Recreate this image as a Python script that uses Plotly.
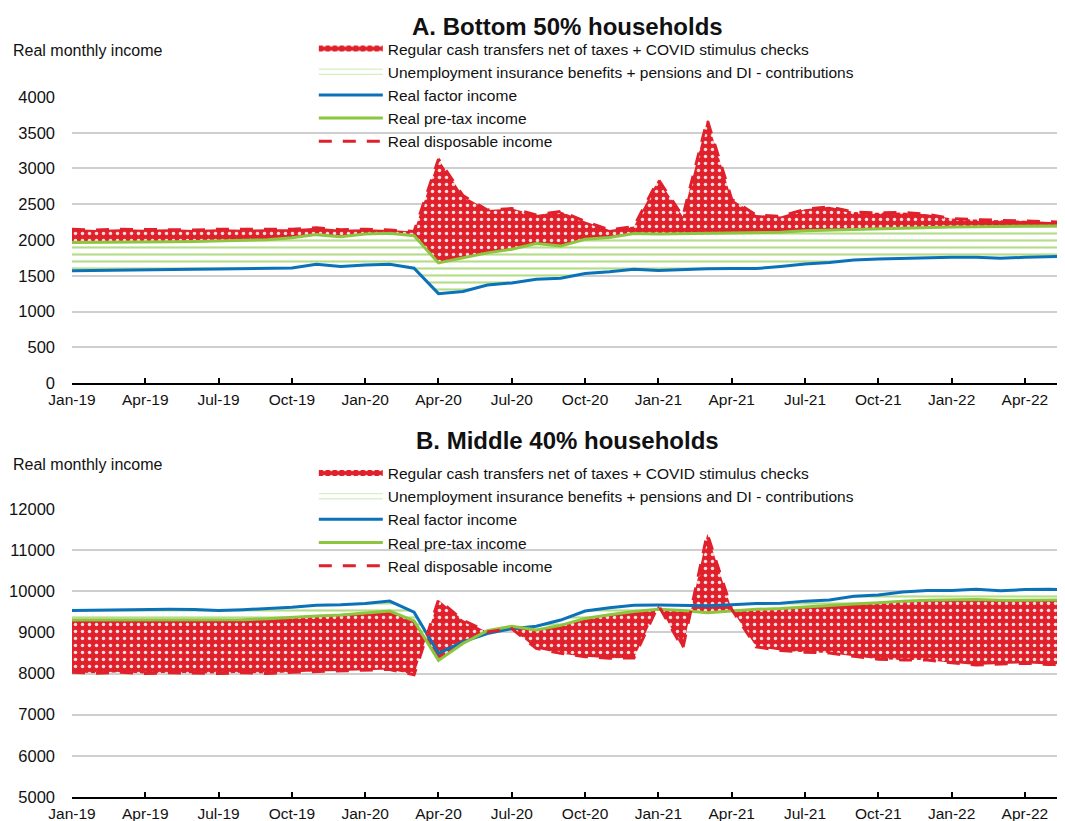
import plotly.graph_objects as go

# monthly observations, Jan-19 .. Jun-22
months = [
    "Jan-19", "Feb-19", "Mar-19", "Apr-19", "May-19", "Jun-19", "Jul-19", "Aug-19", "Sep-19", "Oct-19", "Nov-19", "Dec-19",
    "Jan-20", "Feb-20", "Mar-20", "Apr-20", "May-20", "Jun-20", "Jul-20", "Aug-20", "Sep-20", "Oct-20", "Nov-20", "Dec-20",
    "Jan-21", "Feb-21", "Mar-21", "Apr-21", "May-21", "Jun-21", "Jul-21", "Aug-21", "Sep-21", "Oct-21", "Nov-21", "Dec-21",
    "Jan-22", "Feb-22", "Mar-22", "Apr-22", "May-22", "Jun-22",
]
tick_labels = months[::3]

# A. Bottom 50% households
factor_a = [1570, 1572, 1575, 1580, 1585, 1590, 1595, 1600, 1600, 1610, 1660, 1630,
            1650, 1660, 1605, 1250, 1280, 1370, 1400, 1450, 1465, 1530, 1555, 1590,
            1575, 1590, 1598, 1600, 1600, 1630, 1665, 1685, 1720, 1735, 1745, 1755,
            1758, 1760, 1745, 1758, 1765, 1775]
pretax_a = [1965, 1965, 1968, 1970, 1975, 1980, 1985, 1995, 2005, 2030, 2075, 2045,
            2085, 2095, 2060, 1680, 1745, 1820, 1870, 1950, 1915, 2010, 2035, 2090,
            2085, 2090, 2095, 2095, 2095, 2110, 2130, 2140, 2150, 2160, 2165, 2175,
            2180, 2185, 2190, 2192, 2197, 2200]
disp_a = [2150, 2140, 2150, 2145, 2150, 2140, 2150, 2145, 2150, 2150, 2170, 2145,
          2150, 2140, 2120, 3130, 2620, 2420, 2440, 2350, 2400, 2260, 2140, 2190,
          2845, 2330, 3680, 2570, 2350, 2330, 2430, 2465, 2390, 2380, 2385, 2360,
          2300, 2285, 2275, 2270, 2250, 2245]

# B. Middle 40% households
factor_b = [9530, 9540, 9545, 9560, 9560, 9555, 9530, 9550, 9580, 9610, 9660, 9670,
            9700, 9760, 9490, 8490, 8770, 8970, 9090, 9150, 9300, 9520, 9600, 9660,
            9665, 9650, 9650, 9670, 9700, 9710, 9760, 9790, 9880, 9910, 9980, 10020,
            10020, 10050, 10010, 10040, 10050, 10030]
pretax_b = [9300, 9300, 9305, 9300, 9310, 9300, 9300, 9310, 9330, 9370, 9400, 9420,
            9470, 9520, 9280, 8320, 8730, 9040, 9150, 9060, 9170, 9340, 9430, 9510,
            9560, 9530, 9480, 9520, 9560, 9580, 9620, 9650, 9690, 9720, 9760, 9780,
            9790, 9800, 9780, 9790, 9800, 9790]
disp_b = [8030, 8010, 8030, 8000, 8020, 8010, 8000, 8020, 8000, 8030, 8050, 8060,
          8080, 8100, 7970, 9790, 9300, 9010, 9090, 8610, 8490, 8410, 8370, 8380,
          9660, 8610, 11400, 9560, 8650, 8560, 8520, 8500, 8420, 8350, 8330, 8330,
          8260, 8210, 8230, 8250, 8220, 8230]

RED = "#E0202B"
GREEN = "#8CC63F"
LIGHT_GREEN = "#B3DC86"
BLUE = "#0B72BA"
FONT = "Liberation Sans, Arial, sans-serif"

names = [
    "Regular cash transfers net of taxes + COVID stimulus checks",
    "Unemployment insurance benefits + pensions and DI - contributions",
    "Real factor income",
    "Real pre-tax income",
    "Real disposable income",
]

fig = go.Figure()


def add_panel(factor, pretax, disp, xa, ya, leg):
    # invisible base for the green band
    fig.add_trace(go.Scatter(x=months, y=factor, mode="lines", line=dict(width=0),
                             showlegend=False, hoverinfo="skip", xaxis=xa, yaxis=ya))
    fig.add_trace(go.Scatter(x=months, y=pretax, mode="none", fill="tonexty",
                             fillcolor="white",
                             fillpattern=dict(shape="-", fgcolor=LIGHT_GREEN, bgcolor="white",
                                              size=7, solidity=0.3, fillmode="replace"),
                             name=names[1], legend=leg, legendrank=2, xaxis=xa, yaxis=ya))
    fig.add_trace(go.Scatter(x=months, y=disp, mode="none", fill="tonexty",
                             fillcolor=RED,
                             fillpattern=dict(shape=".", fgcolor="#FBE0E0", bgcolor=RED,
                                              size=7, solidity=0.2, fillmode="replace"),
                             name=names[0], legend=leg, legendrank=1, xaxis=xa, yaxis=ya))
    fig.add_trace(go.Scatter(x=months, y=factor, mode="lines", line=dict(color=BLUE, width=3),
                             name=names[2], legend=leg, legendrank=3, xaxis=xa, yaxis=ya))
    fig.add_trace(go.Scatter(x=months, y=pretax, mode="lines", line=dict(color=GREEN, width=3),
                             name=names[3], legend=leg, legendrank=4, xaxis=xa, yaxis=ya))
    fig.add_trace(go.Scatter(x=months, y=disp, mode="lines",
                             line=dict(color=RED, width=3, dash="13px,11px"),
                             name=names[4], legend=leg, legendrank=5, xaxis=xa, yaxis=ya))


add_panel(factor_a, pretax_a, disp_a, "x", "y", "legend")
add_panel(factor_b, pretax_b, disp_b, "x2", "y2", "legend2")

xaxis_style = dict(
    type="category", range=[0, 40.56], tickmode="array", tickvals=tick_labels,
    ticks="inside", ticklen=5, tickwidth=1.5, tickcolor="black",
    showline=True, linecolor="black", linewidth=1.5, showgrid=False,
    tickfont=dict(size=15.5, color="#111"), ticklabelstandoff=2, automargin=False,
)
yaxis_style = dict(
    showgrid=True, gridcolor="#CFCFCF", gridwidth=1.5, zeroline=False, showline=False,
    tickformat="d", tickfont=dict(size=16.5, color="#111"), ticklabelstandoff=16,
    automargin=False,
)
legend_style = dict(
    xanchor="left", yanchor="top", bgcolor="rgba(0,0,0,0)", traceorder="normal",
    font=dict(size=15.5, color="#111"), itemwidth=64, tracegroupgap=0,
    itemclick=False,
)

# the page puts the plot 8px in from the top-left corner, so size it to fill the rest
fig.update_layout(
    width=1057, height=813,
    margin=dict(l=64, r=2, t=2, b=24),
    paper_bgcolor="white", plot_bgcolor="white",
    font=dict(family=FONT, color="#111"),
    showlegend=True,
    xaxis=dict(domain=[0, 1], anchor="y", **xaxis_style),
    yaxis=dict(domain=[0.526, 0.8895], anchor="x", range=[0, 4000], dtick=500, **yaxis_style),
    xaxis2=dict(domain=[0, 1], anchor="y2", **xaxis_style),
    yaxis2=dict(domain=[0, 0.366], anchor="x2", range=[5000, 12000], dtick=1000, **yaxis_style),
    legend=dict(x=0.244, y=0.972, **legend_style),
    legend2=dict(x=0.244, y=0.4327, **legend_style),
    annotations=[
        dict(text="<b>A. Bottom 50% households</b>", x=0.5, y=0.979, xref="paper", yref="paper",
             xanchor="center", yanchor="middle", showarrow=False, font=dict(size=24)),
        dict(text="Real monthly income", x=-0.062, y=0.949, xref="paper", yref="paper",
             xanchor="left", yanchor="middle", showarrow=False, font=dict(size=16)),
        dict(text="<b>B. Middle 40% households</b>", x=0.5, y=0.4536, xref="paper", yref="paper",
             xanchor="center", yanchor="middle", showarrow=False, font=dict(size=24)),
        dict(text="Real monthly income", x=-0.062, y=0.4219, xref="paper", yref="paper",
             xanchor="left", yanchor="middle", showarrow=False, font=dict(size=16)),
    ],
)

fig.write_html("out.html")
